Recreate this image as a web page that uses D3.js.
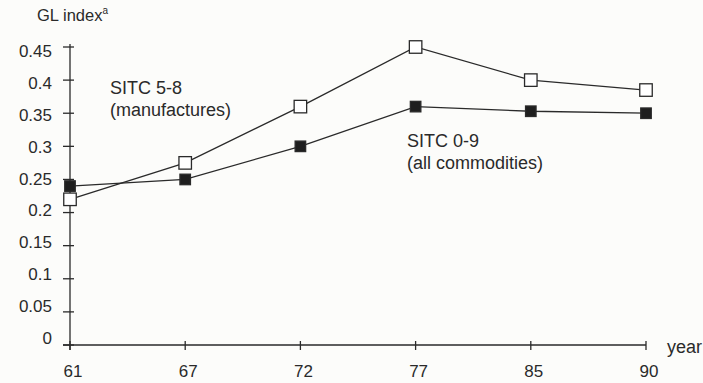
<!DOCTYPE html>
<meta charset="utf-8">
<body style="margin:0;background:#fcfcfa">
<div id="chart"></div>
<script src="https://d3js.org/d3.v7.min.js"></script>
<script>
var years = ["61", "67", "72", "77", "85", "90"];
var manufactures = [0.22, 0.275, 0.36, 0.45, 0.40, 0.385];
var allCommodities = [0.24, 0.25, 0.30, 0.36, 0.353, 0.35];
var yTicks = [0, 0.05, 0.1, 0.15, 0.2, 0.25, 0.3, 0.35, 0.4, 0.45];

var width = 703, height = 383;
var ink = "#2a2a2a";
var font = "'Liberation Sans', Arial, sans-serif";

var svg = d3.select("#chart").append("svg")
    .attr("width", width)
    .attr("height", height)
    .style("font-family", font);

var x = d3.scalePoint().domain(years).range([70, 646]);
var y = d3.scaleLinear().domain([0, 0.45]).range([345, 47]);
// tick labels in the original sit on a slightly tighter spacing than the ticks
var yLab = d3.scaleLinear().domain([0, 0.45]).range([344, 57]);

// y axis
var yAxis = svg.append("g").attr("transform", "translate(70,0)");
yAxis.append("line").attr("y1", y(0.45) - 3).attr("y2", y(0) + 5)
    .attr("stroke", ink).attr("stroke-width", 1.3);
yAxis.selectAll(".tk").data(yTicks).enter().append("line")
    .attr("x1", -7).attr("x2", 4)
    .attr("y1", function(d){return y(d);}).attr("y2", function(d){return y(d);})
    .attr("stroke", ink).attr("stroke-width", 1.3);
yAxis.selectAll("text").data(yTicks).enter().append("text")
    .attr("x", -18).attr("y", function(d){return yLab(d);})
    .attr("text-anchor", "end")
    .attr("font-size", 17).attr("fill", ink)
    .text(function(d){return d === 0 ? "0" : String(+d.toFixed(2));});

// x axis
var xAxis = svg.append("g").attr("transform", "translate(0," + y(0) + ")");
xAxis.append("line").attr("x1", 63).attr("x2", x("90"))
    .attr("stroke", ink).attr("stroke-width", 1.3);
xAxis.selectAll(".tk").data(years).enter().append("line")
    .attr("x1", function(d){return x(d);}).attr("x2", function(d){return x(d);})
    .attr("y1", -4).attr("y2", 5)
    .attr("stroke", ink).attr("stroke-width", 1.3);
xAxis.selectAll("text").data(years).enter().append("text")
    .attr("x", function(d){return x(d) + 3;}).attr("y", 32)
    .attr("text-anchor", "middle")
    .attr("font-size", 17).attr("fill", ink)
    .text(function(d){return d;});

svg.append("text").attr("x", 667).attr("y", 353)
    .attr("font-size", 18).attr("fill", ink).text("year");

var gl = svg.append("text").attr("x", 37).attr("y", 21)
    .attr("font-size", 16.5).attr("fill", ink).text("GL index");
gl.append("tspan").attr("font-size", 10).attr("dy", -7).text("a");

var line = d3.line()
    .x(function(d, i){return x(years[i]);})
    .y(function(d){return y(d);});

function series(vals, filled, s) {
  svg.append("path").datum(vals)
      .attr("d", line).attr("fill", "none")
      .attr("stroke", ink).attr("stroke-width", 1.3);
  svg.selectAll(null).data(vals).enter().append("rect")
      .attr("x", function(d, i){return x(years[i]) - s / 2;})
      .attr("y", function(d){return y(d) - s / 2;})
      .attr("width", s).attr("height", s)
      .attr("fill", filled ? "#1e1e1e" : "#fff")
      .attr("stroke", ink).attr("stroke-width", 1.3);
}
series(allCommodities, true, 10.5);
series(manufactures, false, 12.5);

function label(lines, x0, y0) {
  svg.append("text").attr("x", x0).attr("y", y0)
      .attr("font-size", 18).attr("fill", ink)
    .selectAll("tspan").data(lines).enter().append("tspan")
      .attr("x", x0).attr("dy", function(d, i){return i ? 22 : 0;})
      .text(function(d){return d;});
}
label(["SITC 5-8", "(manufactures)"], 110, 94);
label(["SITC 0-9", "(all commodities)"], 407, 147);
</script>
</body>
